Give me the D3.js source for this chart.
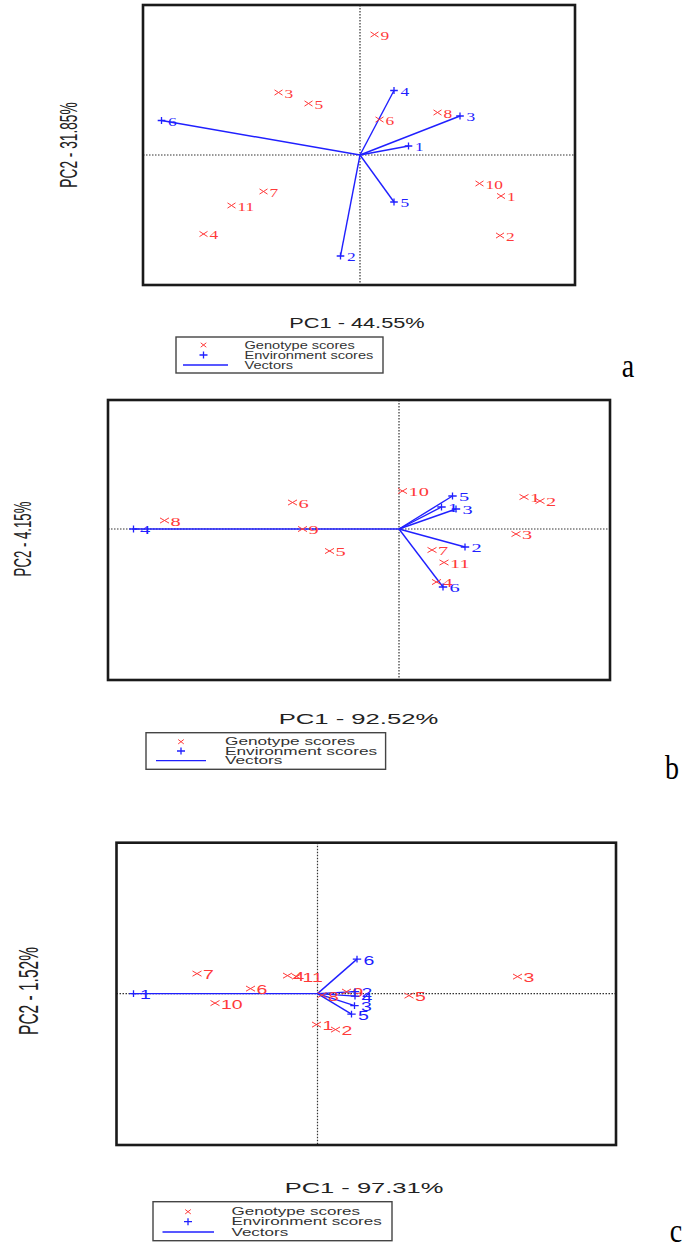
<!DOCTYPE html>
<html><head><meta charset="utf-8">
<script src="https://cdn.jsdelivr.net/npm/d3@7"></script>
<style>body{margin:0;background:#fff}</style>
</head><body>
<svg id="chart" width="687" height="1251"></svg>
<script>
// ---------------- DATA ----------------
const genotypes = ["1","2","3","4","5","6","7","8","9","10","11"];
const environments = ["1","2","3","4","5","6"];
const legendItems = ["Genotype scores","Environment scores","Vectors"];
const pc1Labels = ["PC1 - 44.55%","PC1 - 92.52%","PC1 - 97.31%"];
const pc2Labels = ["PC2 - 31.85%","PC2 - 4.15%","PC2 - 1.52%"];
const panelLetters = ["a","b","c"];

// panel a
const genoPC1_a = [2.82, 2.80, -1.63, -3.13, -1.03, 0.39, -1.93, 1.55, 0.29, 2.39, -2.57];
const genoPC2_a = [-0.82, -1.61, 1.25, -1.58, 1.03, 0.71, -0.73, 0.85, 2.41, -0.57, -1.01];
const envPC1_a  = [0.97, -0.39, 2.00, 0.68, 0.68, -3.97];
const envPC2_a  = [0.18, -2.02, 0.78, 1.29, -0.94, 0.69];
// panel b
const genoPC1_b = [2.50, 2.82, 2.34, 0.75, -1.39, -2.13, 0.66, -4.69, -1.93, 0.07, 0.90];
const genoPC2_b = [0.64, 0.56, -0.10, -1.06, -0.44, 0.53, -0.42, 0.17, 0.00, 0.76, -0.67];
const envPC1_b  = [0.85, 1.32, 1.14, -5.31, 1.07, 0.88];
const envPC2_b  = [0.44, -0.36, 0.40, 0.00, 0.66, -1.16];
// panel c
const genoPC1_c = [-0.02, 0.36, 4.00, -0.60, 1.83, -1.34, -2.41, 0.09, 0.58, -2.05, -0.42];
const genoPC2_c = [-0.62, -0.72, 0.34, 0.36, -0.04, 0.10, 0.40, -0.03, 0.04, -0.19, 0.34];
const envPC1_c  = [-3.68, 0.75, 0.74, 0.75, 0.68, 0.79];
const envPC2_c  = [0.00, 0.04, -0.24, -0.05, -0.41, 0.69];

// ---------------- LAYOUT ----------------
const RED = "#ff3a3a", BLUE = "#2020ff";
const panels = [
  { geno:[genoPC1_a, genoPC2_a], env:[envPC1_a, envPC2_a],
    box:{x0:143, x1:575, y0:5, y1:285}, xDom:[-4.34, 4.30], yDom:[-2.6, 3.0],
    sx:1.45, ptFont:"Liberation Serif", ptSize:12, mk:{xw:4, xh:2.6, pw:3.8, ph:3.4},
    pc1:{x:357, y:323, size:15, sx:1.45}, pc2:{x:69, y:145, size:13.7, sx:1.75},
    leg:{x0:176, x1:383, y0:337, y1:373, sym:203.5, l0:183, l1:228, tx:244.5, rows:[345,355,365], sx:1.39},
    letter:{x:628, y:377} },
  { geno:[genoPC1_b, genoPC2_b], env:[envPC1_b, envPC2_b],
    box:{x0:108, x1:610, y0:400, y1:680}, xDom:[-5.82, 4.22], yDom:[-3.02, 2.58],
    sx:1.7, ptFont:"Liberation Serif", ptSize:12, mk:{xw:4.5, xh:2.6, pw:4.2, ph:3.4},
    pc1:{x:358.5, y:719, size:15, sx:1.71}, pc2:{x:22.5, y:539, size:13.2, sx:1.75},
    leg:{x0:146, x1:385.6, y0:732.7, y1:769.3, sym:181, l0:156, l1:206, tx:225, rows:[741.7,751,760.7], sx:1.64},
    letter:{x:672, y:779} },
  { geno:[genoPC1_c, genoPC2_c], env:[envPC1_c, envPC2_c],
    box:{x0:116.5, x1:616, y0:842.7, y1:1145}, xDom:[-4.02, 5.97], yDom:[-3.03, 3.02],
    sx:1.5, ptFont:"Liberation Sans", ptSize:13, mk:{xw:4.5, xh:2.6, pw:4.2, ph:3.4},
    pc1:{x:364, y:1188, size:15, sx:1.70}, pc2:{x:29, y:991, size:15.5, sx:1.75},
    leg:{x0:153, x1:392, y0:1201.7, y1:1240.7, sym:188, l0:162.5, l1:214, tx:231.5, rows:[1211.7,1221.7,1232], sx:1.62},
    letter:{x:676, y:1242} }
];

const svg = d3.select("#chart");

function sText(g, x, y, str, opts) {
  const t = g.append("text")
    .attr("transform", `translate(${x},${y}) scale(${opts.sx||1},${opts.sy||1})` + (opts.rot ? ` rotate(${opts.rot})` : ""))
    .attr("font-family", opts.font || "Liberation Sans")
    .attr("font-size", opts.size)
    .attr("fill", opts.fill || "#222")
    .attr("text-anchor", opts.anchor || "start")
    .attr("dy", opts.dy || "0.35em")
    .text(str);
  return t;
}
function crossX(g, cx, cy, w, h, col, sw) {
  g.append("path").attr("d", `M${cx-w},${cy-h}L${cx+w},${cy+h}M${cx-w},${cy+h}L${cx+w},${cy-h}`)
    .attr("stroke", col).attr("stroke-width", sw||1).attr("fill","none");
}
function plus(g, cx, cy, w, h, col, sw) {
  g.append("path").attr("d", `M${cx-w},${cy}L${cx+w},${cy}M${cx},${cy-h}L${cx},${cy+h}`)
    .attr("stroke", col).attr("stroke-width", sw||1.3).attr("fill","none");
}

panels.forEach((p, i) => {
  const x = d3.scaleLinear().domain(p.xDom).range([p.box.x0, p.box.x1]);
  const y = d3.scaleLinear().domain(p.yDom).range([p.box.y1, p.box.y0]);
  const g = svg.append("g");

  // dotted reference lines through origin
  g.append("line").attr("x1", x(0)).attr("x2", x(0)).attr("y1", p.box.y0).attr("y2", p.box.y1)
    .attr("stroke", "#333").attr("stroke-width", 1.2).attr("stroke-dasharray", "1.5,1.5");
  g.append("line").attr("x1", p.box.x0).attr("x2", p.box.x1).attr("y1", y(0)).attr("y2", y(0))
    .attr("stroke", "#333").attr("stroke-width", 1.2).attr("stroke-dasharray", "1.5,1.5");

  const envPts = environments.map((e, k) => ({ name: e, px: p.env[0][k], py: p.env[1][k] }));
  const genoPts = genotypes.map((e, k) => ({ name: e, px: p.geno[0][k], py: p.geno[1][k] }));

  // vectors
  g.selectAll(null).data(envPts).enter().append("line")
    .attr("x1", x(0)).attr("y1", y(0))
    .attr("x2", d => x(d.px)).attr("y2", d => y(d.py))
    .attr("stroke", BLUE).attr("stroke-width", 1.4);

  // genotype markers + labels
  genoPts.forEach(d => {
    crossX(g, x(d.px), y(d.py), p.mk.xw, p.mk.xh, RED, 1);
    sText(g, x(d.px) + 6, y(d.py) + 1, d.name, { sx: p.sx, size: p.ptSize, font: p.ptFont, fill: RED });
  });
  // environment markers + labels
  envPts.forEach(d => {
    plus(g, x(d.px), y(d.py), p.mk.pw, p.mk.ph, BLUE, 1.3);
    sText(g, x(d.px) + 6.5, y(d.py) + 1, d.name, { sx: p.sx, size: p.ptSize, font: p.ptFont, fill: BLUE });
  });

  // frame
  g.append("rect").attr("x", p.box.x0).attr("y", p.box.y0)
    .attr("width", p.box.x1 - p.box.x0).attr("height", p.box.y1 - p.box.y0)
    .attr("fill", "none").attr("stroke", "#1a1a1a").attr("stroke-width", 2.6);

  // axis titles
  sText(g, p.pc1.x, p.pc1.y, pc1Labels[i], { sx: p.pc1.sx, size: p.pc1.size, anchor: "middle" });
  sText(g, p.pc2.x, p.pc2.y, pc2Labels[i], { sx: p.pc2.sx, size: p.pc2.size, anchor: "middle", rot: -90 });

  // legend
  const L = p.leg;
  g.append("rect").attr("x", L.x0).attr("y", L.y0).attr("width", L.x1 - L.x0).attr("height", L.y1 - L.y0)
    .attr("fill", "#fff").attr("stroke", "#444").attr("stroke-width", 1.4);
  crossX(g, L.sym, L.rows[0], 2.8, 2.2, RED, 1);
  plus(g, L.sym, L.rows[1], 4, 3.5, BLUE, 1.3);
  g.append("line").attr("x1", L.l0).attr("x2", L.l1).attr("y1", L.rows[2]).attr("y2", L.rows[2])
    .attr("stroke", BLUE).attr("stroke-width", 1.3);
  legendItems.forEach((t, k) => sText(g, L.tx, L.rows[k], t, { sx: L.sx, size: 10.5, fill: "#333" }));

  // panel letter
  sText(g, p.letter.x, p.letter.y, panelLetters[i], { size: 28, sy: 1.2, font: "Liberation Serif", anchor: "middle", dy: "0", fill: "#000" });
});
</script>
</body></html>
